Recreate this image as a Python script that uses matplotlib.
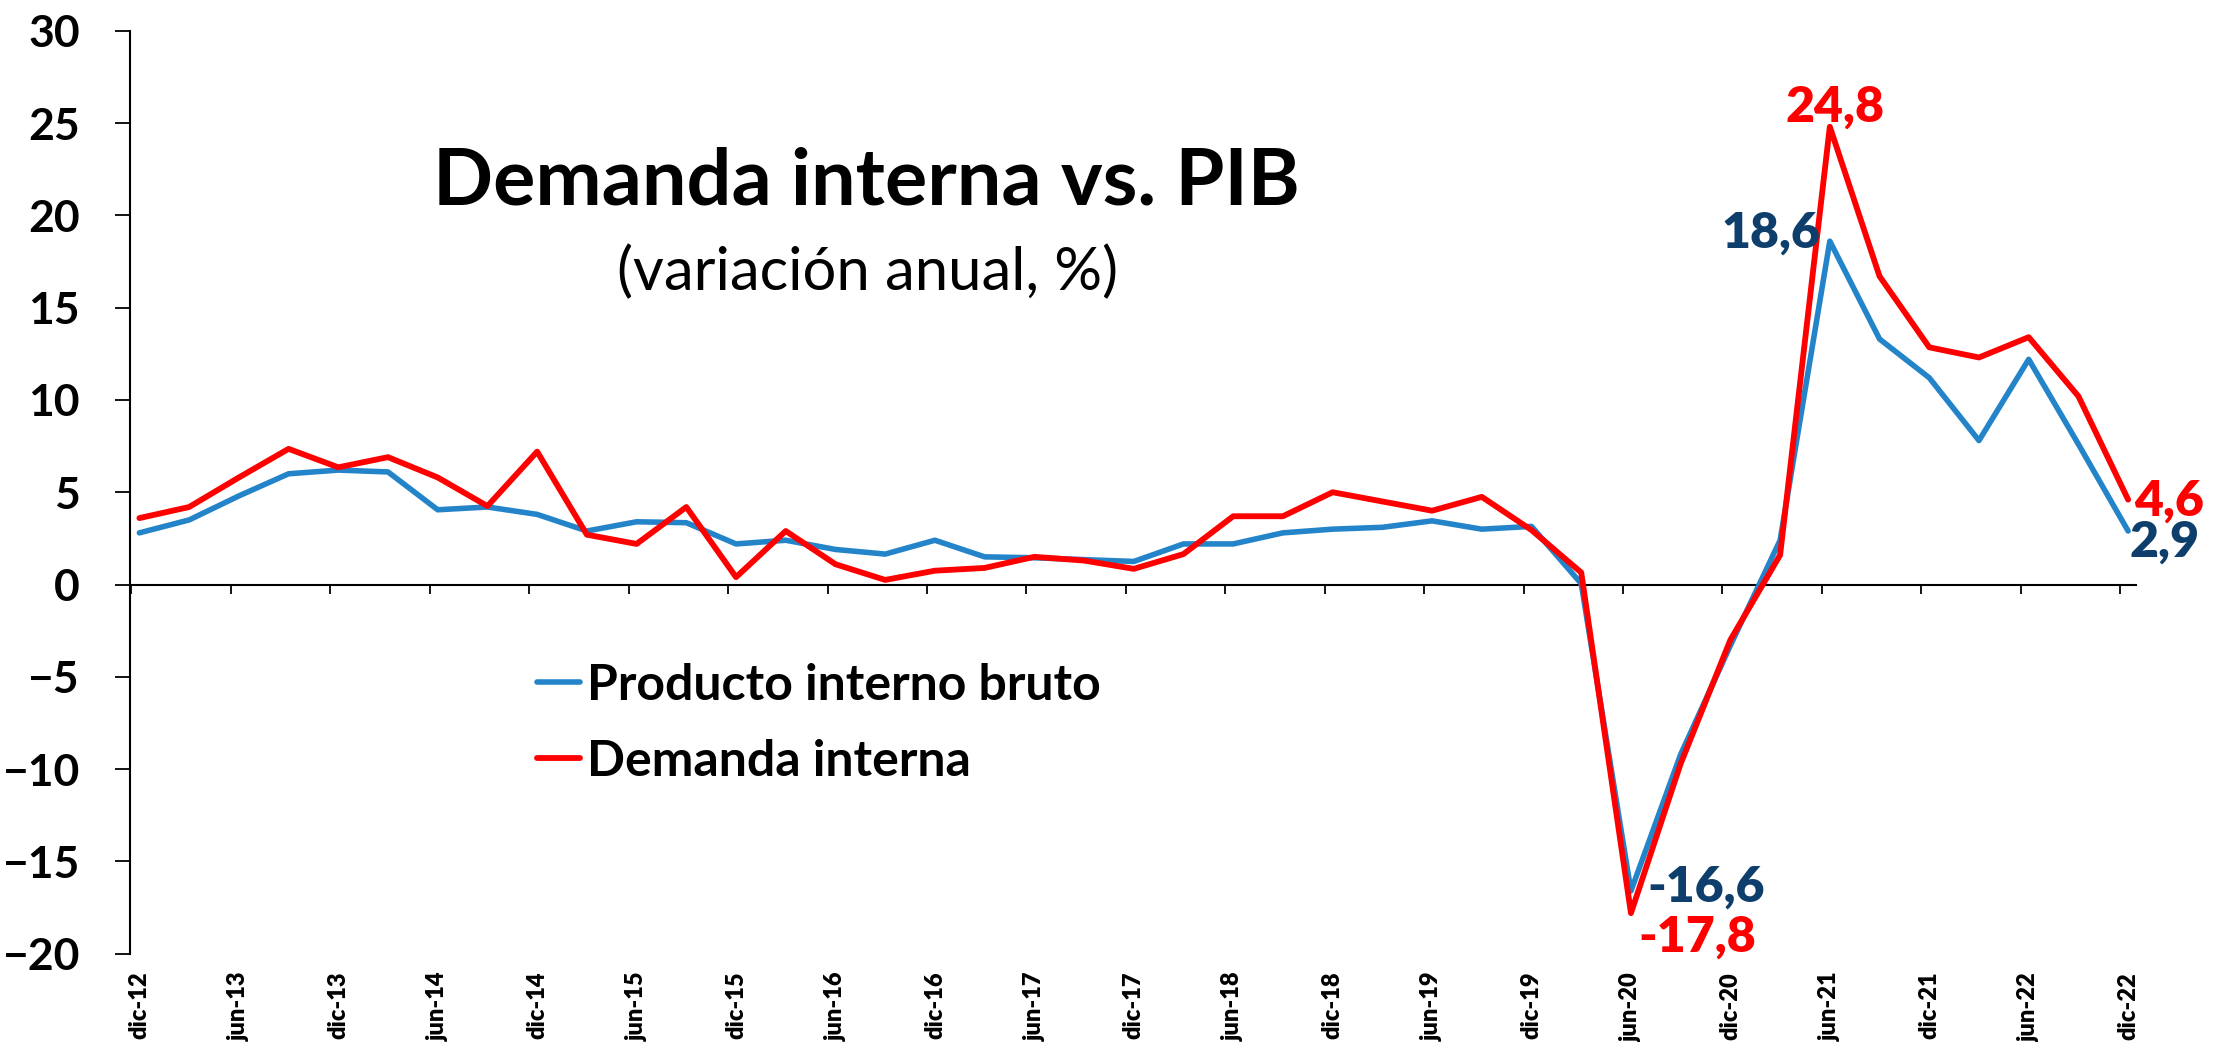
import matplotlib as mpl
mpl.use('Agg')
import matplotlib.pyplot as plt
import numpy as np

plt.rcParams['font.family'] = ['Lato', 'DejaVu Sans']

# quarterly data, dic-12 .. dic-22
pib = [2.8, 3.5, 4.8, 6.0, 6.2, 6.1, 4.05, 4.2, 3.8, 2.9,
       3.4, 3.35, 2.2, 2.4, 1.9, 1.65, 2.4, 1.5, 1.45, 1.35,
       1.25, 2.2, 2.2, 2.8, 3.0, 3.1, 3.45, 3.0, 3.15, 0.05,
       -16.6, -9.2, -3.3, 2.4, 18.6, 13.3, 11.2, 7.8, 12.2, 7.6,
       2.9]
demanda = [3.6, 4.2, 5.8, 7.35, 6.35, 6.9, 5.8, 4.25, 7.2, 2.7,
           2.2, 4.2, 0.4, 2.9, 1.1, 0.25, 0.75, 0.9, 1.5, 1.3,
           0.85, 1.65, 3.7, 3.7, 5.0, 4.5, 4.0, 4.75, 2.95, 0.65,
           -17.8, -9.7, -3.0, 1.6, 24.8, 16.7, 12.85, 12.3, 13.4, 10.2,
           4.6]
tick_labels = ['dic-12', 'jun-13', 'dic-13', 'jun-14', 'dic-14', 'jun-15', 'dic-15',
               'jun-16', 'dic-16', 'jun-17', 'dic-17', 'jun-18', 'dic-18', 'jun-19',
               'dic-19', 'jun-20', 'dic-20', 'jun-21', 'dic-21', 'jun-22', 'dic-22']

BLUE = '#2484C9'
RED = '#FF0000'
NAVY = '#0E3F6C'

x = np.arange(len(pib))

fig = plt.figure(figsize=(22.33, 10.42), dpi=100)
ax = fig.add_axes([0.0582, 0.0847, 0.8984, 0.8858])

ax.plot(x, pib, color=BLUE, lw=4.0, label='Producto interno bruto', solid_capstyle='round')
ax.plot(x, demanda, color=RED, lw=4.2, label='Demanda interna', solid_capstyle='round')

ax.set_xlim(-0.19, 40.16)
ax.set_ylim(-20, 30)
ax.set_yticks(np.arange(-20, 31, 5))
ax.tick_params(axis='y', direction='out', length=11, width=1.3, pad=25, labelsize=32)
for t in ax.get_yticklabels():
    t.set_fontweight('bold')

# category axis sits on zero, labels at the bottom
ax.spines['top'].set_visible(False)
ax.spines['right'].set_visible(False)
ax.spines['left'].set_linewidth(1.5)
ax.spines['bottom'].set_position(('data', 0))
ax.spines['bottom'].set_linewidth(1.5)
ax.spines['bottom'].set_zorder(1)
ax.set_xticks(x[::2] - 0.16)
ax.tick_params(axis='x', direction='out', length=6.5, width=1.3, labelbottom=False)
for i, lbl in zip(x[::2], tick_labels):
    ax.annotate(lbl, xy=(i, 0), xycoords=('data', 'axes fraction'),
                xytext=(0, -13), textcoords='offset points', rotation=90,
                ha='center', va='top', fontsize=17, fontweight='heavy')

# title
fig.text(0.388, 0.8253, 'Demanda interna vs. PIB', ha='center', va='center',
         fontsize=57, fontweight='bold')
fig.text(0.3885, 0.739, '(variación anual, %)', ha='center', va='center', fontsize=43)

# legend
leg = ax.legend(loc='upper left', bbox_to_anchor=(0.2405, 0.364), bbox_transform=fig.transFigure,
                frameon=False, fontsize=36, handlelength=0.85, handletextpad=0.15,
                labelspacing=0.62, borderpad=0, borderaxespad=0)
for t in leg.get_texts():
    t.set_fontweight('bold')

# data labels
def lab(i, series, text, color, dx, dy, ha):
    ax.annotate(text, xy=(i, series[i]), xytext=(dx, dy), textcoords='offset points',
                ha=ha, va='center', color=color, fontsize=36, fontweight='heavy')

lab(34, demanda, '24,8', RED, 4, 14, 'center')
lab(34, pib, '18,6', NAVY, -7, 6, 'right')
lab(30, pib, '-16,6', NAVY, 12, 3, 'left')
lab(30, demanda, '-17,8', RED, 5, -17, 'left')
lab(40, demanda, '4,6', RED, 4, -1, 'left')
lab(40, pib, '2,9', NAVY, 1, -8, 'left')

fig.savefig('out.png', dpi=100)
